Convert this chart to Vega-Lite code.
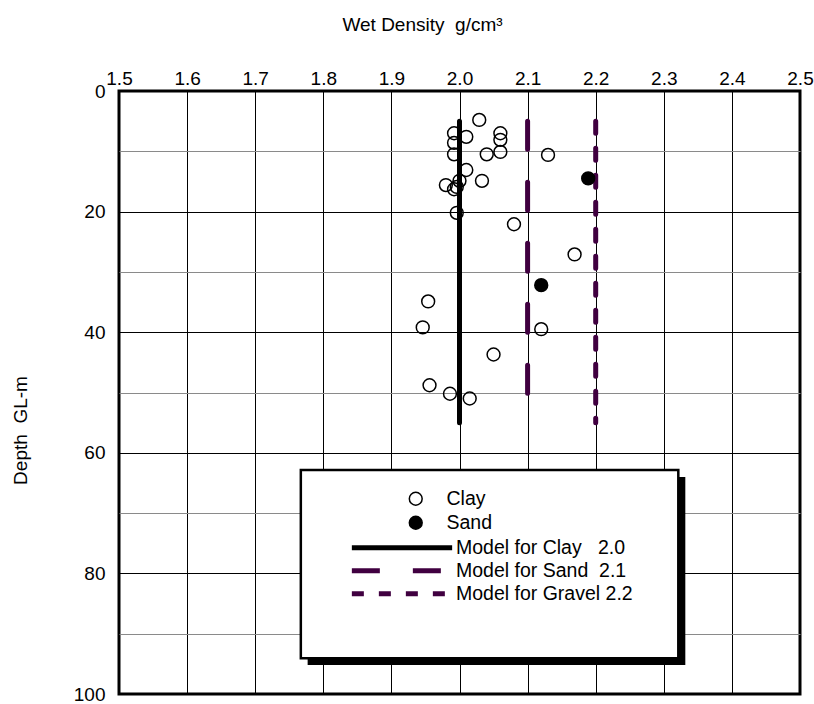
{
  "$schema": "https://vega.github.io/schema/vega-lite/v6.json",
  "width": 681,
  "height": 603,
  "autosize": "none",
  "padding": {"left": 119, "top": 91, "right": 14, "bottom": 10},
  "background": "white",
  "config": {
    "font": "Liberation Sans",
    "view": {"stroke": "black", "strokeWidth": 3},
    "axis": {
      "labelFont": "Liberation Sans",
      "labelFontSize": 19,
      "labelColor": "black",
      "titleFont": "Liberation Sans",
      "titleFontSize": 19,
      "titleFontWeight": "normal",
      "titleColor": "black",
      "domain": false,
      "ticks": false,
      "gridOpacity": 1,
      "gridWidth": 1
    },
    "legend": {
      "labelFont": "Liberation Sans",
      "labelFontSize": 19.5,
      "labelColor": "black",
      "labelLimit": 400
    }
  },
  "datasets": {
    "samples": [
      {"density": 2.029, "depth": 4.8, "soil": "Clay"},
      {"density": 1.992, "depth": 7.0, "soil": "Clay"},
      {"density": 2.010, "depth": 7.6, "soil": "Clay"},
      {"density": 1.992, "depth": 8.6, "soil": "Clay"},
      {"density": 2.060, "depth": 7.0, "soil": "Clay"},
      {"density": 2.060, "depth": 8.1, "soil": "Clay"},
      {"density": 2.060, "depth": 10.1, "soil": "Clay"},
      {"density": 1.992, "depth": 10.5, "soil": "Clay"},
      {"density": 2.040, "depth": 10.5, "soil": "Clay"},
      {"density": 2.130, "depth": 10.6, "soil": "Clay"},
      {"density": 2.010, "depth": 13.1, "soil": "Clay"},
      {"density": 2.033, "depth": 14.9, "soil": "Clay"},
      {"density": 2.000, "depth": 14.9, "soil": "Clay"},
      {"density": 1.980, "depth": 15.6, "soil": "Clay"},
      {"density": 1.996, "depth": 15.9, "soil": "Clay"},
      {"density": 1.992, "depth": 16.3, "soil": "Clay"},
      {"density": 1.996, "depth": 20.2, "soil": "Clay"},
      {"density": 2.080, "depth": 22.1, "soil": "Clay"},
      {"density": 2.169, "depth": 27.1, "soil": "Clay"},
      {"density": 1.954, "depth": 34.9, "soil": "Clay"},
      {"density": 1.946, "depth": 39.2, "soil": "Clay"},
      {"density": 2.120, "depth": 39.5, "soil": "Clay"},
      {"density": 2.050, "depth": 43.7, "soil": "Clay"},
      {"density": 1.956, "depth": 48.8, "soil": "Clay"},
      {"density": 1.986, "depth": 50.2, "soil": "Clay"},
      {"density": 2.015, "depth": 51.0, "soil": "Clay"},
      {"density": 2.189, "depth": 14.5, "soil": "Sand"},
      {"density": 2.120, "depth": 32.2, "soil": "Sand"}
    ],
    "models": [
      {"model": "Model for Clay\u00a0\u00a0\u00a02.0", "density": 2.0, "top": 5, "bottom": 55},
      {"model": "Model for Sand\u00a0\u00a02.1", "density": 2.1, "top": 5, "bottom": 55},
      {"model": "Model for Gravel 2.2", "density": 2.2, "top": 5, "bottom": 55}
    ]
  },
  "layer": [
    {
      "data": {"name": "models"},
      "mark": {"type": "rule", "strokeWidth": 5, "strokeCap": "round"},
      "encoding": {
        "x": {
          "field": "density", "type": "quantitative",
          "scale": {"domain": [1.5, 2.5], "nice": false, "zero": false},
          "axis": {
            "orient": "top",
            "values": [1.5, 1.6, 1.7, 1.8, 1.9, 2.0, 2.1, 2.2, 2.3, 2.4, 2.5],
            "format": ".1f",
            "labelFlush": false,
            "labelPadding": 3,
            "grid": true,
            "gridColor": "black",
            "title": "Wet Density\u00a0 g/cm³",
            "titleX": 303,
            "titleY": -67,
            "titleAlign": "center",
            "titleBaseline": "middle"
          }
        },
        "y": {
          "field": "top", "type": "quantitative",
          "scale": {"domain": [0, 100], "reverse": true, "nice": false, "zero": false},
          "axis": {
            "orient": "left",
            "values": [0, 10, 20, 30, 40, 50, 60, 70, 80, 90, 100],
            "labelExpr": "datum.value % 20 === 0 ? datum.label : ''",
            "labelFlush": false,
            "labelPadding": 14,
            "grid": true,
            "gridColor": {"condition": {"test": "datum.value % 20 === 0", "value": "black"}, "value": "#8a8a8a"},
            "title": "Depth\u00a0 GL-m",
            "titleAngle": -90,
            "titleX": -99,
            "titleY": 339,
            "titleAlign": "center",
            "titleBaseline": "middle"
          }
        },
        "y2": {"field": "bottom"},
        "stroke": {
          "field": "model", "type": "nominal",
          "scale": {"domain": ["Model for Clay\u00a0\u00a0\u00a02.0", "Model for Sand\u00a0\u00a02.1", "Model for Gravel 2.2"], "range": ["black", "#400040", "#400040"]},
          "legend": {"orient": "none", "legendX": 272, "legendY": 445.7, "title": null, "symbolType": "M-5.9,0H5.9", "symbolSize": 289, "symbolStrokeWidth": 5, "labelOffset": 43, "rowPadding": 2, "padding": 0, "zindex": 1}
        },
        "strokeDash": {
          "field": "model", "type": "nominal",
          "scale": {"domain": ["Model for Clay\u00a0\u00a0\u00a02.0", "Model for Sand\u00a0\u00a02.1", "Model for Gravel 2.2"], "range": [[1, 0], [28, 33], [12, 15]]},
          "legend": {"orient": "none", "legendX": 272, "legendY": 445.7, "title": null, "symbolType": "M-5.9,0H5.9", "symbolSize": 289, "symbolStrokeWidth": 5, "labelOffset": 43, "rowPadding": 2, "padding": 0, "zindex": 1}
        }
      }
    },
    {
      "data": {"name": "samples"},
      "mark": {"type": "point", "shape": "circle", "filled": true, "size": 165, "stroke": "black", "strokeWidth": 1.5, "opacity": 1},
      "encoding": {
        "x": {"field": "density", "type": "quantitative"},
        "y": {"field": "depth", "type": "quantitative"},
        "fill": {
          "field": "soil", "type": "nominal",
          "scale": {"domain": ["Clay", "Sand"], "range": ["rgba(0,0,0,0)", "black"]},
          "legend": {"orient": "none", "legendX": 287, "legendY": 398, "title": null, "symbolType": "circle", "symbolSize": 165, "symbolStrokeColor": "black", "symbolStrokeWidth": 1.5, "labelOffset": 21, "rowPadding": 3, "padding": 0, "zindex": 1}
        }
      }
    },
    {
      "data": {"values": [{}]},
      "mark": {"type": "rect", "fill": "black"},
      "encoding": {
        "x": {"datum": 1.777, "type": "quantitative"},
        "x2": {"datum": 2.3316},
        "y": {"datum": 64.0, "type": "quantitative"},
        "y2": {"datum": 95.2}
      }
    },
    {
      "data": {"values": [{}]},
      "mark": {"type": "rect", "fill": "white", "stroke": "black", "strokeWidth": 2.5},
      "encoding": {
        "x": {"datum": 1.767, "type": "quantitative"},
        "x2": {"datum": 2.3213},
        "y": {"datum": 62.85, "type": "quantitative"},
        "y2": {"datum": 94.08}
      }
    }
  ]
}
